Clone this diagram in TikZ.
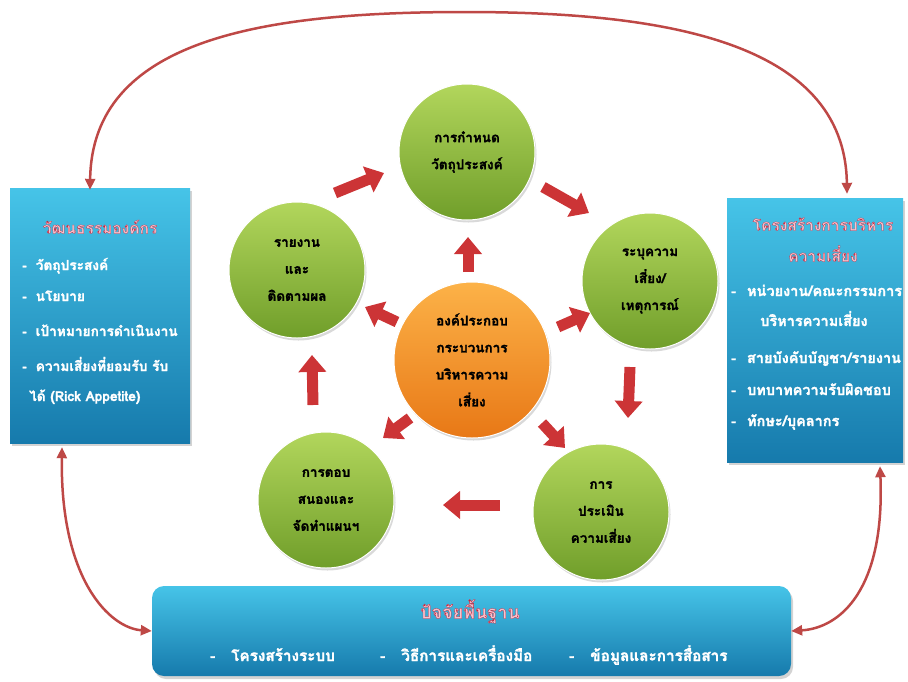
\documentclass[tikz,border=0pt]{standalone}
\usepackage{fontspec}
\newfontfamily\thai[Script=Thai,FakeBold=1.6]{Loma}
\usetikzlibrary{shadows,arrows.meta,calc}
\definecolor{gtop}{RGB}{178,214,92}
\definecolor{gbot}{RGB}{112,158,42}
\definecolor{otop}{RGB}{252,178,72}
\definecolor{obot}{RGB}{232,120,22}
\definecolor{btop}{RGB}{70,196,232}
\definecolor{bbot}{RGB}{22,122,172}
\definecolor{blkred}{RGB}{204,52,54}
\definecolor{arcred}{RGB}{190,72,70}
\definecolor{ttlpink}{RGB}{248,196,206}
\newcommand\ttlout[1]{\special{pdf:code 0.74 0.16 0.26 RG 2 Tr 0.4 w}#1\special{pdf:code 0 Tr}}
\tikzset{
  gball/.style={circle, minimum size=136pt, inner sep=0pt, draw=white, line width=1pt,
    top color=gtop, bottom color=gbot, align=center,
    font=\thai\bfseries\fontsize{13.5}{27}\selectfont,
    drop shadow={shadow xshift=1.5pt, shadow yshift=-2.5pt, opacity=0.3}},
  oball/.style={gball, minimum size=156pt, top color=otop, bottom color=obot},
  bluebox/.style={rectangle, inner sep=0pt, top color=btop, bottom color=bbot,
    drop shadow={shadow xshift=2pt, shadow yshift=-3pt, opacity=0.35}},
  itemtxt/.style={anchor=west, inner sep=0pt, text=white,
    font=\thai\bfseries\fontsize{13.7}{15}\selectfont, text height=9pt, text depth=3pt},
  ritem/.style={itemtxt, font=\thai\bfseries\fontsize{14.5}{16}\selectfont},
  bitem/.style={itemtxt, font=\thai\bfseries\fontsize{15.3}{17}\selectfont},
  ttl/.style={inner sep=0pt, text=ttlpink, font=\thai\bfseries\fontsize{15.5}{17}\selectfont,
    text height=10pt, text depth=3pt},
  blk/.style={draw=blkred, line width=11pt, -{Triangle[length=17pt,width=27pt]}},
  linkarc/.style={draw=arcred, line width=2.5pt,
    {Triangle[length=11pt,width=10pt]}-{Triangle[length=11pt,width=10pt]}}
}
\begin{document}
\begin{tikzpicture}[x=1pt,y=-1pt]
\useasboundingbox (0,0) rectangle (908,681);
% boxes
\node[bluebox, minimum width=180pt, minimum height=255pt] (lbox) at (100,315.5) {};
\node[bluebox, minimum width=176pt, minimum height=264pt] (rbox) at (815,330) {};
\node[bluebox, rounded corners=12pt, minimum width=639pt, minimum height=90pt] (bbox) at (471.5,631) {};
% left box text
\node[ttl] (lt) at (100,230) {\ttlout{วัฒนธรรมองค์กร}};
\node[itemtxt] (l1) at (22,267) {-\hspace{9pt}วัตถุประสงค์};
\node[itemtxt] (l2) at (22,298) {-\hspace{9pt}นโยบาย};
\node[itemtxt] (l3) at (22,333) {-\hspace{9pt}เป้าหมายการดำเนินงาน};
\node[itemtxt] (l4) at (22,368) {-\hspace{9pt}ความเสี่ยงที่ยอมรับ รับ};
\node[itemtxt] (l5) at (29,398) {ได้ (Rick Appetite)};
% right box text
\node[ttl] (rt1) at (823,227) {\ttlout{โครงสร้างการบริหาร}};
\node[ttl] (rt2) at (823,258) {\ttlout{ความเสี่ยง}};
\node[ritem] (r1) at (731,293) {-\hspace{11pt}หน่วยงาน/คณะกรรมการ};
\node[ritem] (r2) at (760,323) {บริหารความเสี่ยง};
\node[ritem] (r3) at (731,360) {-\hspace{11pt}สายบังคับบัญชา/รายงาน};
\node[ritem] (r4) at (731,392) {-\hspace{11pt}บทบาทความรับผิดชอบ};
\node[ritem] (r5) at (731,423) {-\hspace{11pt}ทักษะ/บุคลากร};
% bottom box text
\node[ttl, font=\thai\bfseries\fontsize{18}{20}\selectfont] (bt) at (470,615) {\ttlout{ปัจจัยพื้นฐาน}};
\node[bitem] (b1) at (210,658) {-\hspace{16pt}โครงสร้างระบบ};
\node[bitem] (b2) at (380,658) {-\hspace{16pt}วิธีการและเครื่องมือ};
\node[bitem] (b3) at (569,658) {-\hspace{16pt}ข้อมูลและการสื่อสาร};
% circles
\node[gball] (top) at (467,152) {การกำหนด\\วัตถุประสงค์};
\node[gball] (tr) at (650,281) {ระบุความ\\เสี่ยง/\\เหตุการณ์};
\node[gball] (br) at (601,512) {การ\\ประเมิน\\ความเสี่ยง};
\node[gball] (bl) at (326,500) {การตอบ\\สนองและ\\จัดทำแผนฯ};
\node[gball] (tl) at (297,270) {รายงาน\\และ\\ติดตามผล};
\node[oball] (ctr) at (472,360) {องค์ประกอบ\\กระบวนการ\\บริหารความ\\เสี่ยง};
% cycle arrows
\draw[blk] ($(tl)+(38,-77)$) -- ($(top)+(-83,21)$);
\draw[blk] ($(top)+(76,35)$) -- ($(tr)+(-61,-68)$);
\draw[blk] ($(tr)+(-20,86)$) -- ($(br)+(27,-94)$);
\draw[blk] ($(br)+(-101,-7)$) -- ($(bl)+(117,5)$);
\draw[blk] ($(bl)+(-13,-95)$) -- ($(tl)+(15,85)$);
% centre arrows
\draw[blk] ($(ctr)+(-4,-88)$) -- ($(top)+(1,85)$);
\draw[blk] ($(ctr)+(86,-33)$) -- ($(tr)+(-60,32)$);
\draw[blk] ($(ctr)+(70,63)$) -- ($(br)+(-36,-64)$);
\draw[blk] ($(ctr)+(-62,58)$) -- ($(bl)+(57,-62)$);
\draw[blk] ($(ctr)+(-75,-38)$) -- ($(tl)+(68,37)$);
% outer links
\coordinate (arctop) at (465,12);
\draw[linkarc] ($(lbox.north)+(-10,2)$) .. controls (92,40) and (260,12) .. (arctop)
  .. controls (660,12) and (845,40) .. ($(rbox.north)+(32,-4)$);
\draw[linkarc] ($(lbox.south)+(-38,4)$) .. controls (60,580) and (110,628) .. (bbox.west);
\draw[linkarc] ($(rbox.south)+(65,4)$) .. controls (885,590) and (840,628) .. (bbox.east);
\end{tikzpicture}
\end{document}
